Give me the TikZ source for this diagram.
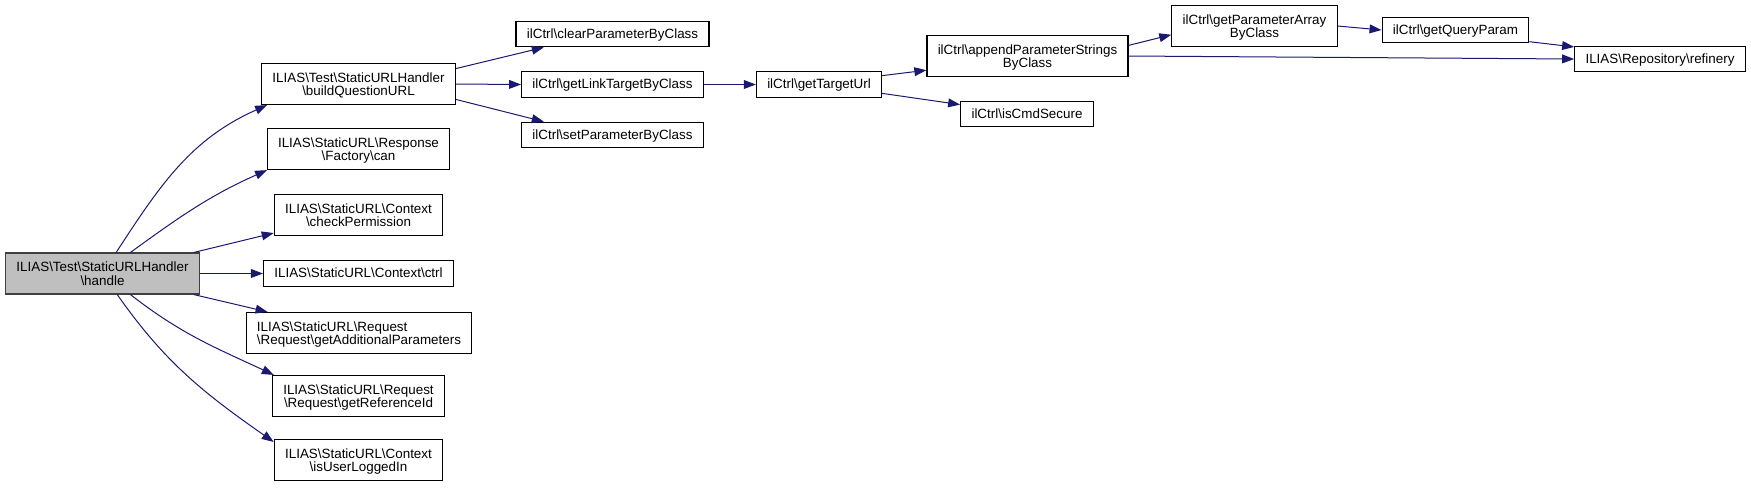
\documentclass[tikz,border=0pt]{standalone}
\usepackage{fontspec}
\setmainfont{Liberation Sans}
\usetikzlibrary{arrows.meta}

\definecolor{edgeblue}{HTML}{191970}
\definecolor{handlegray}{HTML}{BFBFBF}
\newcommand{\bsl}{\textbackslash}
\newcommand{\fnlines}[3][c]{\begin{tabular}{@{}#1@{}}#2\\#3\end{tabular}}

\begin{document}
\begin{tikzpicture}[x=0.5pt, y=0.5pt,
        fn/.style={draw=black, line width=0.6pt, fill=white, inner xsep=5.4pt, inner ysep=0pt,
            font=\fontsize{6.7}{6.3}\selectfont},
        oneline/.style={fn, minimum height=12.75pt, text height=5.4pt, text depth=1pt},
        twoline/.style={fn, minimum height=20.5pt, text height=10pt, text depth=4.4pt},
        calls/.style={draw=edgeblue, line width=0.5pt, -{Triangle[length=6pt, width=4.4pt]}}]
        \useasboundingbox (0,0) rectangle (1751,-489);

        % Caller
        \node[twoline, fill=handlegray, draw=black!75] (handle) at (102.5,-273.5)
            {\fnlines{ILIAS\bsl Test\bsl StaticURLHandler}{\bsl handle}};

        % First column
        \node[twoline] (question) at (358.5,-84) {\fnlines{ILIAS\bsl Test\bsl StaticURLHandler}{\bsl buildQuestionURL}};
        \node[twoline] (can) at (358.5,-149) {\fnlines{ILIAS\bsl StaticURL\bsl Response}{\bsl Factory\bsl can}};
        \node[twoline] (permission) at (358.5,-215) {\fnlines{ILIAS\bsl StaticURL\bsl Context}{\bsl checkPermission}};
        \node[oneline] (ctrl) at (358.5,-273.5) {ILIAS\bsl StaticURL\bsl Context\bsl ctrl};
        \node[twoline] (addparams) at (359,-333) {\fnlines[l]{ILIAS\bsl StaticURL\bsl Request}{\bsl Request\bsl getAdditionalParameters}};
        \node[twoline] (refid) at (358.5,-396) {\fnlines{ILIAS\bsl StaticURL\bsl Request}{\bsl Request\bsl getReferenceId}};
        \node[twoline] (loggedin) at (358.5,-460) {\fnlines{ILIAS\bsl StaticURL\bsl Context}{\bsl isUserLoggedIn}};

        % ilCtrl calls
        \node[oneline] (clearparam) at (612.5,-34) {ilCtrl\bsl clearParameterByClass};
        \node[oneline] (linktarget) at (612.5,-84.5) {ilCtrl\bsl getLinkTargetByClass};
        \node[oneline] (setparam) at (612.5,-135) {ilCtrl\bsl setParameterByClass};
        \node[oneline] (targeturl) at (819,-84.5) {ilCtrl\bsl getTargetUrl};
        \node[twoline] (appendparam) at (1027.5,-56) {\fnlines{ilCtrl\bsl appendParameterStrings}{ByClass}};
        \node[oneline] (cmdsecure) at (1027,-114) {ilCtrl\bsl isCmdSecure};
        \node[twoline] (paramarray) at (1254.5,-26) {\fnlines{ilCtrl\bsl getParameterArray}{ByClass}};
        \node[oneline] (queryparam) at (1455.5,-30) {ilCtrl\bsl getQueryParam};
        \node[oneline] (refinery) at (1660,-59) {ILIAS\bsl Repository\bsl refinery};

        % Edges from handle
        \draw[calls] (handle.57) to[out=57, in=204] (question.193);
        \draw[calls] (handle.37) to[out=36, in=204] (can.193);
        \draw[calls] (handle.13) -- (permission.192);
        \draw[calls] (handle.east) -- (ctrl.west);
        \draw[calls] (handle.-13) -- (addparams.167);
        \draw[calls] (handle.-37) to[out=-38, in=155] (refid.166);
        \draw[calls] (handle.-55) to[out=-55, in=145] (loggedin.168);

        % Edges further right
        \draw[calls] (question.9) -- (clearparam.191);
        \draw[calls] (question.east) -- (linktarget.west);
        \draw[calls] (question.-9) -- (setparam.169);
        \draw[calls] (linktarget.east) -- (targeturl.west);
        \draw[calls] (targeturl.8) -- (appendparam.188);
        \draw[calls] (targeturl.-8) -- (cmdsecure.172);
        \draw[calls] (appendparam.6) -- (paramarray.186);
        \draw[calls] (appendparam.east) -- (refinery.west);
        \draw[calls] (paramarray.east) -- (queryparam.west);
        \draw[calls] (queryparam.-9) -- (refinery.172);
    \end{tikzpicture}
\end{document}
